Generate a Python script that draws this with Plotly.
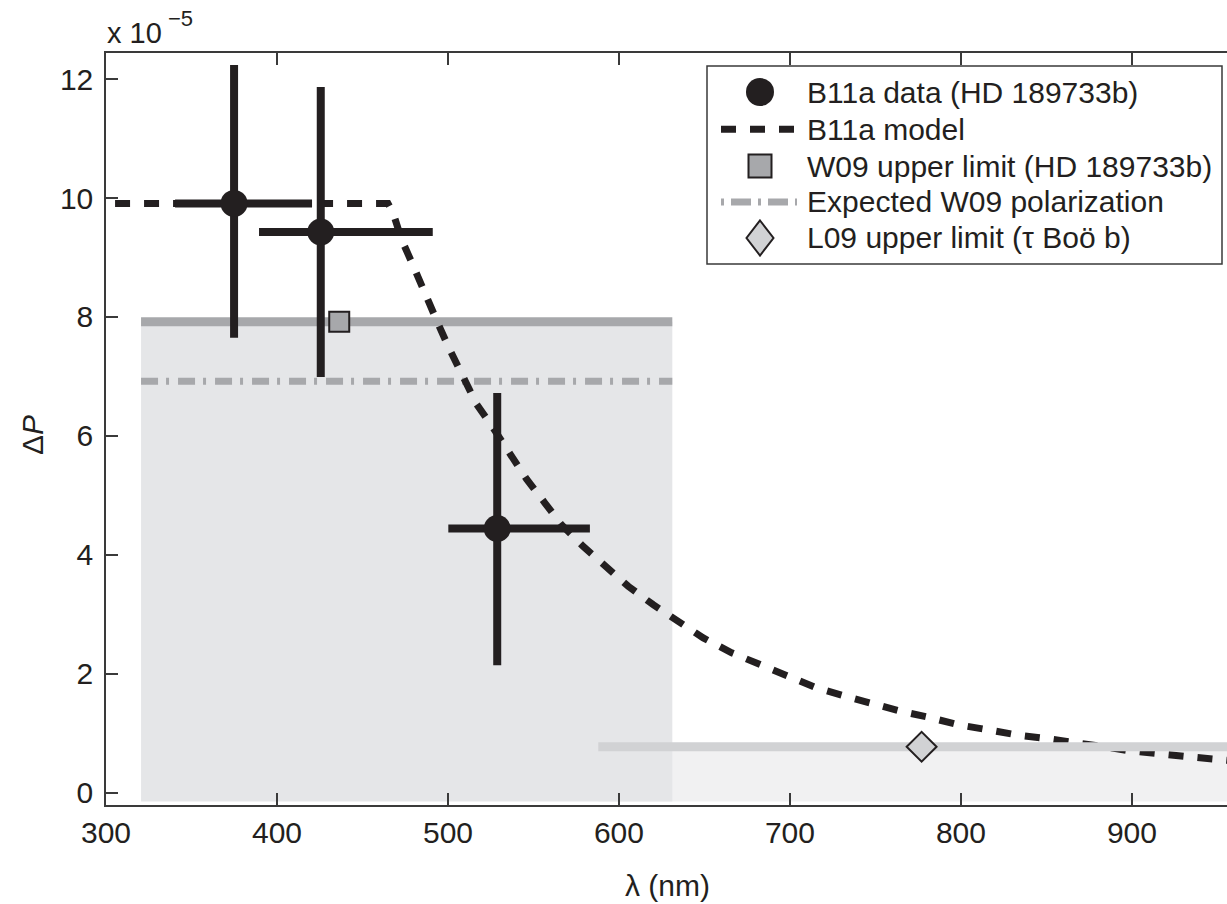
import plotly.graph_objects as go

# ---- data (ΔP in units of 1e-5, wavelength in nm) ----
# B11a polarimetry of HD 189733b: band centre, band edges, ΔP and its range
b11a_wavelength = [374.9, 425.6, 528.8]
b11a_band_lo = [340.4, 389.5, 500.2]
b11a_band_hi = [420.5, 491.1, 583.0]
b11a_dp = [9.91, 9.43, 4.44]
b11a_dp_lo = [7.65, 6.99, 2.14]
b11a_dp_hi = [12.24, 11.87, 6.72]

# B11a Rayleigh-scattering model
model_wavelength = [305.3, 464.9, 468.0, 472.9, 479.7, 486.5, 493.4, 500.2, 508.9,
                    516.8, 526.5, 536.3, 546.0, 556.7, 566.5, 579.1, 592.8, 605.4,
                    620.0, 634.7, 649.3, 665.9, 682.5, 699.0, 715.6, 732.2, 748.7,
                    764.3, 781.9, 798.4, 817.0, 834.5, 852.0, 863.7, 881.3, 898.8,
                    916.4, 933.9, 960.0]
model_dp = [9.91, 9.91, 9.74, 9.30, 8.86, 8.38, 7.94, 7.50, 7.00,
            6.53, 6.13, 5.68, 5.27, 4.87, 4.50, 4.14, 3.78, 3.47,
            3.16, 2.88, 2.60, 2.35, 2.15, 1.95, 1.76, 1.62, 1.48,
            1.37, 1.26, 1.14, 1.05, 0.96, 0.90, 0.86, 0.78, 0.70,
            0.64, 0.60, 0.53]

# W09 upper limit (HD 189733b) and expected polarization over its band
w09_band = [320.5, 631.2]
w09_limit = 7.92
w09_expected = 6.92
w09_marker_wavelength = 436.4

# L09 upper limit (tau Boo b)
l09_band = [587.9, 960.0]
l09_limit = 0.77
l09_marker_wavelength = 777.0

x_ticks = [300, 400, 500, 600, 700, 800, 900]
y_ticks = [0, 2, 4, 6, 8, 10, 12]

# ---- style ----
INK = "#231f20"
AXIS = "#3a3a3a"
W09_FILL = "#e5e6e8"
W09_LINE = "#a7a8ab"
L09_FILL = "#f1f1f2"
L09_LINE = "#d1d2d4"
FONT = "Liberation Sans, Arial, Helvetica, sans-serif"
BAND_BASE = -0.15

W, H = 1227, 904
ML, MR, MT, MB = 106, 0, 53, 99
X_RANGE = [300, 955.6]
Y_RANGE = [-0.21, 12.44]


def px(x):
    return (x - ML) / (W - ML - MR)


def py(y):
    return (H - MB - y) / (H - MT - MB)


fig = go.Figure()


def band_fill(band, top, color):
    fig.add_trace(go.Scatter(
        x=[band[0], band[1], band[1], band[0], band[0]],
        y=[BAND_BASE, BAND_BASE, top, top, BAND_BASE],
        mode="lines", fill="toself", fillcolor=color,
        line=dict(width=0, color=color), hoverinfo="skip", showlegend=False))


band_fill(l09_band, l09_limit, L09_FILL)
band_fill(w09_band, w09_limit, W09_FILL)

fig.add_trace(go.Scatter(
    x=w09_band, y=[w09_limit, w09_limit], mode="lines",
    line=dict(color=W09_LINE, width=9), showlegend=False))

fig.add_trace(go.Scatter(
    x=w09_band, y=[w09_expected, w09_expected], mode="lines",
    line=dict(color=W09_LINE, width=7, dash="17px,8px,3px,9px"), showlegend=False))

fig.add_trace(go.Scatter(
    x=model_wavelength, y=model_dp, mode="lines",
    line=dict(color=INK, width=7, dash="15px,14px"), showlegend=False))

fig.add_trace(go.Scatter(
    x=l09_band, y=[l09_limit, l09_limit], mode="lines",
    line=dict(color=L09_LINE, width=9), showlegend=False))

fig.add_trace(go.Scatter(
    x=b11a_wavelength, y=b11a_dp, mode="markers",
    marker=dict(symbol="circle", size=27, color=INK),
    error_x=dict(type="data", symmetric=False,
                 array=[h - c for h, c in zip(b11a_band_hi, b11a_wavelength)],
                 arrayminus=[c - l for l, c in zip(b11a_band_lo, b11a_wavelength)],
                 thickness=8, width=0, color=INK),
    error_y=dict(type="data", symmetric=False,
                 array=[h - c for h, c in zip(b11a_dp_hi, b11a_dp)],
                 arrayminus=[c - l for l, c in zip(b11a_dp_lo, b11a_dp)],
                 thickness=8, width=0, color=INK),
    showlegend=False))

fig.add_trace(go.Scatter(
    x=[w09_marker_wavelength], y=[w09_limit], mode="markers",
    marker=dict(symbol="square", size=20, color=W09_LINE, line=dict(color=INK, width=2)),
    showlegend=False))

fig.add_trace(go.Scatter(
    x=[l09_marker_wavelength], y=[l09_limit], mode="markers",
    marker=dict(symbol="diamond", size=23, color=L09_LINE, line=dict(color=INK, width=2)),
    showlegend=False))

# ---- legend box drawn with shapes and annotations ----
LX0, LX1, LY0, LY1 = 707, 1222, 66, 264
rows = [92, 129.3, 166, 202, 238]
sym_cx = 760
seg = (721, 797)
labels = ["B11a data (HD 189733b)", "B11a model", "W09 upper limit (HD 189733b)",
          "Expected W09 polarization", "L09 upper limit (τ Boö b)"]

shapes = [dict(type="rect", xref="paper", yref="paper", layer="above",
               x0=px(LX0), x1=px(LX1), y0=py(LY1), y1=py(LY0),
               fillcolor="white", line=dict(color=AXIS, width=1.5))]
r = 14
shapes.append(dict(type="circle", xref="paper", yref="paper", layer="above",
                   x0=px(sym_cx - r), x1=px(sym_cx + r), y0=py(rows[0] + r), y1=py(rows[0] - r),
                   fillcolor=INK, line=dict(color=INK, width=0)))
shapes.append(dict(type="line", xref="paper", yref="paper", layer="above",
                   x0=px(seg[0]), x1=px(seg[1]), y0=py(rows[1]), y1=py(rows[1]),
                   line=dict(color=INK, width=7, dash="15px,14px")))
s = 11.5
shapes.append(dict(type="rect", xref="paper", yref="paper", layer="above",
                   x0=px(sym_cx - s), x1=px(sym_cx + s), y0=py(rows[2] + s), y1=py(rows[2] - s),
                   fillcolor=W09_LINE, line=dict(color=INK, width=2)))
shapes.append(dict(type="line", xref="paper", yref="paper", layer="above",
                   x0=px(seg[0]), x1=px(seg[1]), y0=py(rows[3]), y1=py(rows[3]),
                   line=dict(color=W09_LINE, width=7, dash="3px,7px,20px,7px")))
hw, hh = 13.5, 17.5
cy = rows[4]
shapes.append(dict(type="path", xref="paper", yref="paper", layer="above",
                   path=(f"M{px(sym_cx)},{py(cy - hh)} L{px(sym_cx + hw)},{py(cy)} "
                         f"L{px(sym_cx)},{py(cy + hh)} L{px(sym_cx - hw)},{py(cy)} Z"),
                   fillcolor=L09_LINE, line=dict(color=INK, width=2)))

annotations = []
for lab, yrow in zip(labels, rows):
    annotations.append(dict(text=lab, xref="paper", yref="paper", x=px(805), y=py(yrow),
                            xanchor="left", yanchor="middle", showarrow=False,
                            font=dict(size=30, color=INK, family=FONT)))

# axis titles and the exponent label
annotations += [
    dict(text="x 10", xref="paper", yref="paper", x=px(105), y=py(33),
         xanchor="left", yanchor="middle", showarrow=False,
         font=dict(size=29, color=INK, family=FONT)),
    dict(text="−5", xref="paper", yref="paper", x=px(166), y=py(19),
         xanchor="left", yanchor="middle", showarrow=False,
         font=dict(size=22, color=INK, family=FONT)),
    dict(text="Δ<i>P</i>", xref="paper", yref="paper", x=px(32), y=py(435),
         xanchor="center", yanchor="middle", textangle=-90, showarrow=False,
         font=dict(size=30, color=INK, family=FONT)),
    dict(text="λ (nm)", xref="paper", yref="paper", x=px(667), y=py(885),
         xanchor="center", yanchor="middle", showarrow=False,
         font=dict(size=30, color=INK, family=FONT)),
]

axis_common = dict(showgrid=False, zeroline=False, ticks="inside", ticklen=12,
                   tickwidth=1.5, tickcolor=AXIS, linecolor=AXIS, linewidth=1.5,
                   tickfont=dict(size=30, color=INK, family=FONT))

fig.update_layout(
    width=W, height=H,
    margin=dict(l=ML, r=MR, t=MT, b=MB, pad=0),
    paper_bgcolor="white", plot_bgcolor="white",
    showlegend=False,
    xaxis=dict(range=X_RANGE, tickvals=x_ticks, showline=True, mirror="ticks", **axis_common),
    yaxis=dict(range=Y_RANGE, tickvals=y_ticks, showline=True, ticklabelstandoff=5,
               **axis_common),
    yaxis2=dict(range=Y_RANGE, tickvals=y_ticks, overlaying="y", side="right", anchor="x",
                showline=False, showticklabels=False, showgrid=False, zeroline=False,
                ticks="inside", ticklen=6, tickwidth=1.5, tickcolor=AXIS),
    shapes=shapes,
    annotations=annotations,
)

fig.write_html("out.html")
